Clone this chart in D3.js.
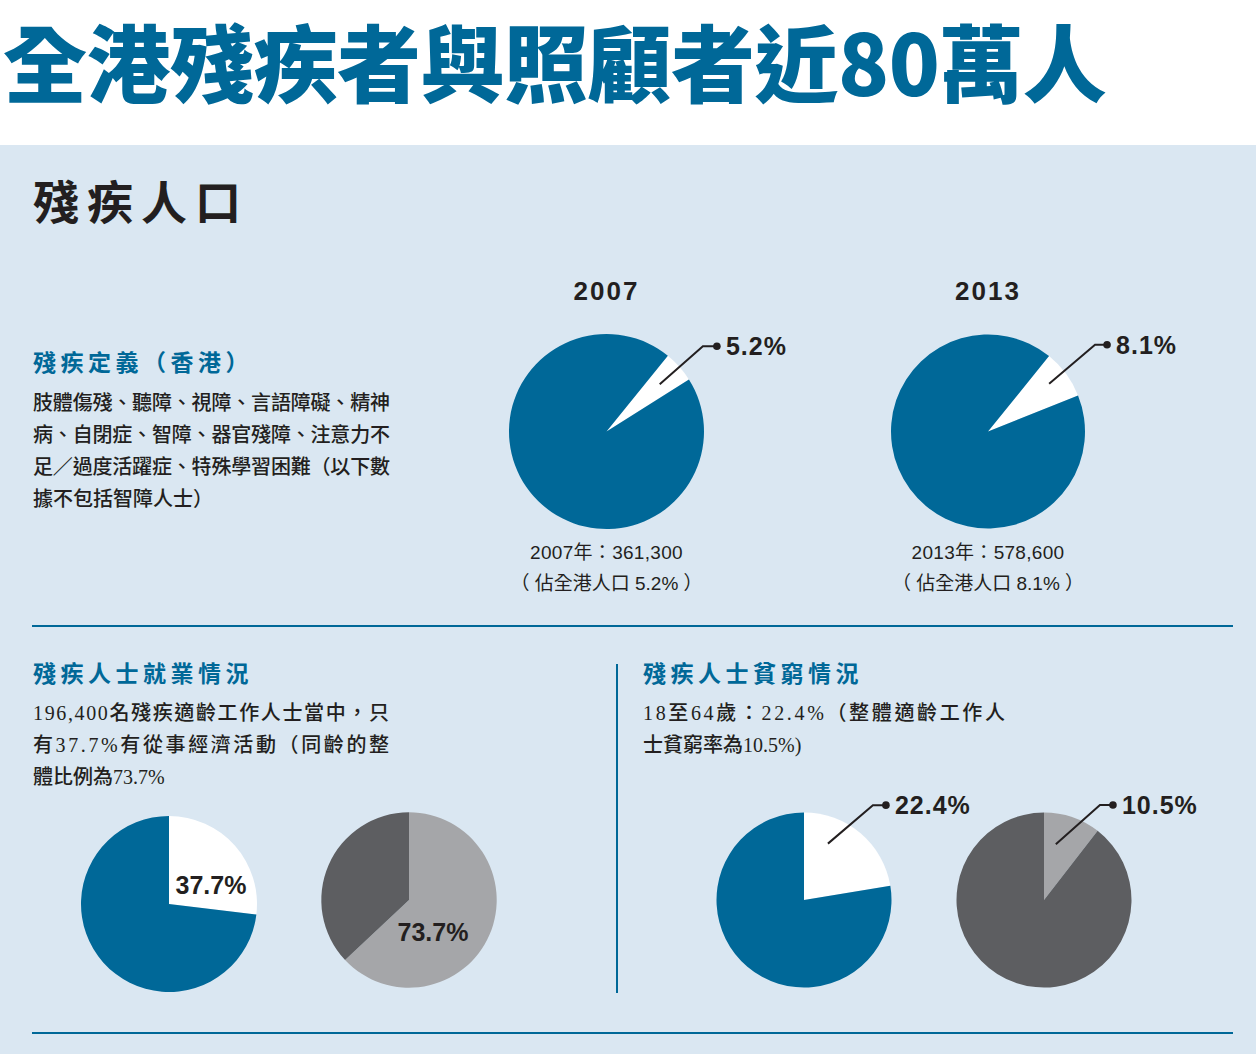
<!DOCTYPE html>
<html><head><meta charset="utf-8">
<script src="https://cdn.jsdelivr.net/npm/d3@7"></script>
<style>
html,body{margin:0;padding:0;background:#fff;}
svg{display:block;}
</style></head>
<body>
<svg id="chart" width="1256" height="1054"></svg>
<script>
// ---------------- DATA ----------------
const mainTitle = "全港殘疾者與照顧者近80萬人";
const sectionTitle = "殘疾人口";
const defHeading = "殘疾定義（香港）";
const defLines = ["肢體傷殘、聽障、視障、言語障礙、精神", "病、自閉症、智障、器官殘障、注意力不", "足／過度活躍症、特殊學習困難（以下數", "據不包括智障人士）"];
const popYears = ["2007", "2013"];
const popShare = [5.2, 8.1];                 // % of HK population
const popShareLabels = ["5.2%", "8.1%"];
const popCounts = ["361,300", "578,600"];
const empHeading = "殘疾人士就業情況";
const empLines = ["196,400名殘疾適齡工作人士當中，只", "有37.7%有從事經濟活動（同齡的整", "體比例為73.7%"];
const empLabels = ["37.7%", "73.7%"];
const empShareDrawn = [26.9, 63.0];          // slice sizes as drawn in the picture
const povHeading = "殘疾人士貧窮情況";
const povLines = ["18至64歲：22.4%（整體適齡工作人", "士貧窮率為10.5%)"];
const povShare = [22.4, 10.5];
const povLabels = ["22.4%", "10.5%"];

// ---------------- STYLE ----------------
const BLUE = "#006898", PANEL = "#dae7f2", INK = "#231f20", LIGHTG = "#a5a6a9", DARKG = "#5d5e61";
const CJK = "'Noto Sans CJK TC','Noto Sans CJK SC',sans-serif";
const SANS = "'Liberation Sans',Arial,'Noto Sans CJK TC',sans-serif";
const SERIF = "'Liberation Serif','Noto Sans CJK TC',serif";

const svg = d3.select("#chart");
svg.append("rect").attr("x",0).attr("y",0).attr("width",1256).attr("height",145).attr("fill","#fff");
svg.append("rect").attr("x",0).attr("y",145).attr("width",1256).attr("height",909).attr("fill",PANEL);

svg.append("text").attr("x",3).attr("y",96).text(mainTitle)
  .attr("font-family",CJK).attr("font-weight",900).attr("font-size",84).attr("letter-spacing",-0.5).attr("fill",BLUE);

svg.append("text").attr("x",33).attr("y",219).text(sectionTitle)
  .attr("font-family",CJK).attr("font-weight",700).attr("font-size",46).attr("letter-spacing",8).attr("fill",INK);

function heading(x,y,t){
  svg.append("text").attr("x",x).attr("y",y).text(t)
    .attr("font-family",CJK).attr("font-weight",700).attr("font-size",23).attr("letter-spacing",4.5).attr("fill",BLUE);
}
function para(x,y,lines,justifyCount,width,family){
  lines.forEach((l,i)=>{
    const t = svg.append("text").attr("x",x).attr("y",y+i*32).text(l)
      .attr("font-family",family).attr("font-size",20).attr("fill",INK).attr("font-weight",500);
    if(i<justifyCount){ t.attr("textLength",width).attr("lengthAdjust","spacing"); }
  });
}
heading(33,371,defHeading);
para(33,410,defLines,3,357,CJK);
heading(33,682,empHeading);
para(33,720,empLines,2,356,SERIF);
heading(643,682,povHeading);
para(643,720,povLines,1,362,SERIF);

// rules
const rules = [[32,626,1233,626],[32,1033,1233,1033],[617,664,617,993]];
svg.selectAll("line.rule").data(rules).enter().append("line").attr("class","rule")
  .attr("x1",d=>d[0]).attr("y1",d=>d[1]).attr("x2",d=>d[2]).attr("y2",d=>d[3])
  .attr("stroke",BLUE).attr("stroke-width",2);

const rad = Math.PI/180;
function drawPie(cx,cy,r,share,startDeg,colA,colB){
  const pie = d3.pie().sort(null).value(d=>d)
    .startAngle(startDeg*rad).endAngle(startDeg*rad+2*Math.PI);
  const arcs = pie([share,100-share]);
  const arc = d3.arc().innerRadius(0).outerRadius(r);
  const g = svg.append("g").attr("transform",`translate(${cx},${cy})`);
  g.selectAll("path").data(arcs).enter().append("path")
    .attr("d",arc).attr("fill",(d,i)=>i===0?colA:colB);
  return {g,arcs,r};
}
function callout(p,cfg,label){
  const pt = (fr,deg)=>[Math.sin(deg*rad)*fr*p.r, -Math.cos(deg*rad)*fr*p.r];
  const a = pt(cfg.innerR,cfg.innerA), b = pt(cfg.elbowR,cfg.elbowA);
  const c = [b[0]+cfg.tail,b[1]];
  p.g.append("path").attr("d",d3.line()([a,b,c])).attr("fill","none").attr("stroke",INK).attr("stroke-width",2);
  p.g.append("circle").attr("cx",c[0]).attr("cy",c[1]).attr("r",3.8).attr("fill",INK);
  p.g.append("text").attr("x",c[0]+9).attr("y",c[1]+9).text(label)
    .attr("font-family",SANS).attr("font-weight",700).attr("font-size",25).attr("letter-spacing",1).attr("fill",INK);
}

// population pies
const popLayout = [{cx:606.5,cy:431.5,r:97.5,start:39,co:{innerR:0.73,innerA:48.4,elbowR:1.32,elbowA:48.5,tail:14}},
                   {cx:988,cy:431.5,r:97,start:39,co:{innerR:0.8,innerA:52,elbowR:1.42,elbowA:51,tail:12}}];
popLayout.forEach((L,i)=>{
  const p = drawPie(L.cx,L.cy,L.r,popShare[i],L.start,"#ffffff",BLUE);
  callout(p,L.co,popShareLabels[i]);
  svg.append("text").attr("x",L.cx).attr("y",300).attr("text-anchor","middle").text(popYears[i])
    .attr("font-family",SANS).attr("font-weight",700).attr("font-size",26).attr("letter-spacing",2).attr("fill",INK);
  svg.append("text").attr("x",L.cx).attr("y",559).attr("text-anchor","middle").text(popYears[i]+"年："+popCounts[i])
    .attr("font-family",SANS).attr("font-size",19).attr("letter-spacing",0.3).attr("fill",INK);
  svg.append("text").attr("x",L.cx).attr("y",590).attr("text-anchor","middle").text("（ 佔全港人口 "+popShareLabels[i]+" ）")
    .attr("font-family",SANS).attr("font-size",19).attr("fill",INK);
});

// employment pies
const empLayout = [{cx:169,cy:904,r:88,cols:["#ffffff",BLUE],lx:42,ly:-10},
                   {cx:409,cy:900,r:87.7,cols:[LIGHTG,DARKG],lx:24,ly:41}];
empLayout.forEach((L,i)=>{
  const p = drawPie(L.cx,L.cy,L.r,empShareDrawn[i],0,L.cols[0],L.cols[1]);
  p.g.append("text").attr("x",L.lx).attr("y",L.ly).attr("text-anchor","middle").text(empLabels[i])
    .attr("font-family",SANS).attr("font-weight",700).attr("font-size",25).attr("fill",INK);
});

// poverty pies
const povLayout = [{cx:804,cy:900,r:87.5,cols:["#ffffff",BLUE],co:{innerR:0.7,innerA:23,elbowR:1.34,elbowA:36,tail:13}},
                   {cx:1044,cy:900,r:87.5,cols:[LIGHTG,DARKG],co:{innerR:0.65,innerA:12,elbowR:1.26,elbowA:30.5,tail:13}}];
povLayout.forEach((L,i)=>{
  const p = drawPie(L.cx,L.cy,L.r,povShare[i],0,L.cols[0],L.cols[1]);
  callout(p,L.co,povLabels[i]);
});
</script>
</body></html>
